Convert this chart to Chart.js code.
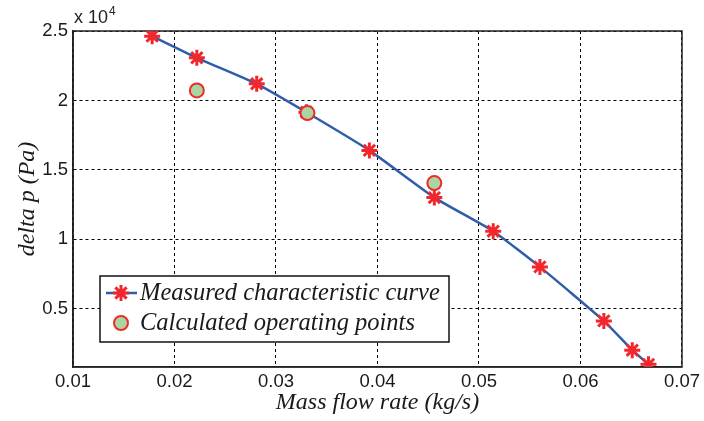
<!DOCTYPE html>
<html>
<head>
<meta charset="utf-8">
<script src="https://cdn.jsdelivr.net/npm/chart.js@4.4.1/dist/chart.umd.min.js"></script>
<style>
  html, body { margin: 0; padding: 0; background: #fff; }
  #wrap { position: relative; width: 704px; height: 421px; }
</style>
</head>
<body>
<div id="wrap"><canvas id="flowChart"></canvas></div>
<script>
// measured characteristic curve (kg/s, Pa)
var measuredFlow = [0.0178, 0.0222, 0.0281, 0.0330, 0.0392, 0.0456, 0.0514, 0.0560, 0.0623, 0.0651, 0.0667];
var measuredDp   = [24630, 23070, 21200, 19150, 16400, 13000, 10580, 8010, 4120, 2010, 990];
// calculated operating points
var calcFlow = [0.0222, 0.0331, 0.0456];
var calcDp   = [20720, 19090, 14050];

var xTicks = [0.01, 0.02, 0.03, 0.04, 0.05, 0.06, 0.07];
var yTicks = [5000, 10000, 15000, 20000, 25000];

var serif = '"Liberation Serif", "Times New Roman", serif';
var sans = '"Liberation Sans", Arial, sans-serif';

function toPoints(xs, ys) {
   return xs.map(function(x, i) { return {x: x, y: ys[i]}; });
}

// box around plot + the "x 10^4" exponent label
var frame = {
   id: 'frame',
   beforeDatasetsDraw: function(chart) {
      var ctx = chart.ctx, a = chart.chartArea;
      ctx.save();
      ctx.strokeStyle = '#222';
      ctx.lineWidth = 1.5;
      ctx.strokeRect(a.left, a.top, a.right - a.left, a.bottom - a.top);
      ctx.restore();
   },
   afterDraw: function(chart) {
      var ctx = chart.ctx, a = chart.chartArea;
      ctx.save();
      ctx.fillStyle = '#222';
      ctx.font = '18px ' + sans;
      ctx.textBaseline = 'alphabetic';
      ctx.fillText('x 10', a.left + 1, a.top - 8);
      var w = ctx.measureText('x 10').width;
      ctx.font = '12px ' + sans;
      ctx.fillText('4', a.left + 2 + w, a.top - 16);
      ctx.restore();
   }
};

// legend drawn inside the plot, lower left
var legendBox = {
   id: 'legendBox',
   afterDraw: function(chart) {
      var ctx = chart.ctx, a = chart.chartArea;
      var x = a.left + 27, y = a.top + 245, w = 349, h = 66;
      var sets = chart.data.datasets;
      var rows = [sets[1], sets[0]];
      ctx.save();
      ctx.fillStyle = '#fff';
      ctx.fillRect(x, y, w, h);
      ctx.strokeStyle = '#111';
      ctx.lineWidth = 1.5;
      ctx.strokeRect(x, y, w, h);
      rows.forEach(function(ds, i) {
         var cy = y + 17 + i * 30;
         if (ds.showLine) {
            ctx.strokeStyle = ds.borderColor;
            ctx.lineWidth = ds.borderWidth;
            ctx.beginPath();
            ctx.moveTo(x + 6, cy);
            ctx.lineTo(x + 37, cy);
            ctx.stroke();
         }
         ctx.strokeStyle = ds.pointBorderColor;
         ctx.fillStyle = ds.pointBackgroundColor;
         ctx.lineWidth = ds.pointBorderWidth;
         Chart.helpers.drawPoint(ctx, {
            pointStyle: ds.pointStyle, radius: ds.pointRadius,
            rotation: 0, borderWidth: ds.pointBorderWidth
         }, x + 21, cy);
         ctx.fillStyle = '#1a1a1a';
         ctx.font = 'italic 24.5px ' + serif;
         ctx.textBaseline = 'middle';
         ctx.fillText(ds.label, x + 40, cy + 1);
      });
      ctx.restore();
   }
};

var ctx = document.getElementById('flowChart').getContext('2d');
var flowChart = new Chart(ctx, {
   type: 'scatter',
   data: {
      datasets: [{
         label: 'Calculated operating points',
         data: toPoints(calcFlow, calcDp),
         showLine: false,
         pointStyle: 'circle',
         pointRadius: 7,
         pointBackgroundColor: '#a9d6a0',
         pointBorderColor: '#ee2b2b',
         pointBorderWidth: 2,
         order: 0
      }, {
         label: 'Measured characteristic curve',
         data: toPoints(measuredFlow, measuredDp),
         showLine: true,
         borderColor: '#2f5dab',
         borderWidth: 2.5,
         tension: 0.15,
         pointStyle: 'star',
         pointRadius: 8,
         pointBackgroundColor: '#f0282d',
         pointBorderColor: '#f0282d',
         pointBorderWidth: 3,
         order: 1
      }]
   },
   options: {
      responsive: true,
      maintainAspectRatio: false,
      animation: false,
      layout: { padding: { left: 0, right: 19, top: 31, bottom: 0 } },
      plugins: {
         legend: { display: false },
         tooltip: { enabled: false }
      },
      scales: {
         x: {
            type: 'linear',
            min: 0.01,
            max: 0.07,
            afterBuildTicks: function(scale) {
               scale.ticks = xTicks.map(function(v) { return {value: v}; });
            },
            afterFit: function(scale) { scale.height = 54; },
            ticks: {
               padding: 4,
               color: '#1a1a1a',
               font: { family: sans, size: 18.5 },
               maxRotation: 0,
               callback: function(v) { return v.toFixed(2); }
            },
            grid: { color: '#000', lineWidth: 1, drawTicks: false },
            border: { display: true, color: '#222', width: 1.5, dash: [3, 3] },
            title: {
               display: true,
               text: 'Mass flow rate (kg/s)',
               color: '#1a1a1a',
               font: { family: serif, style: 'italic', size: 24 },
               padding: { top: 0, bottom: 4 }
            }
         },
         y: {
            type: 'linear',
            min: 800,
            max: 25000,
            afterBuildTicks: function(scale) {
               scale.ticks = yTicks.map(function(v) { return {value: v}; });
            },
            afterFit: function(scale) { scale.width = 73; },
            ticks: {
               padding: 5,
               color: '#1a1a1a',
               font: { family: sans, size: 18.5 },
               callback: function(v) { return String(v / 10000); }
            },
            grid: { color: '#000', lineWidth: 1, drawTicks: false },
            border: { display: true, color: '#222', width: 1.5, dash: [3, 3] },
            title: {
               display: true,
               text: 'delta p (Pa)',
               color: '#1a1a1a',
               font: { family: serif, style: 'italic', size: 24 },
               padding: { top: 13, bottom: 0 }
            }
         }
      }
   },
   plugins: [frame, legendBox]
});
</script>
</body>
</html>
